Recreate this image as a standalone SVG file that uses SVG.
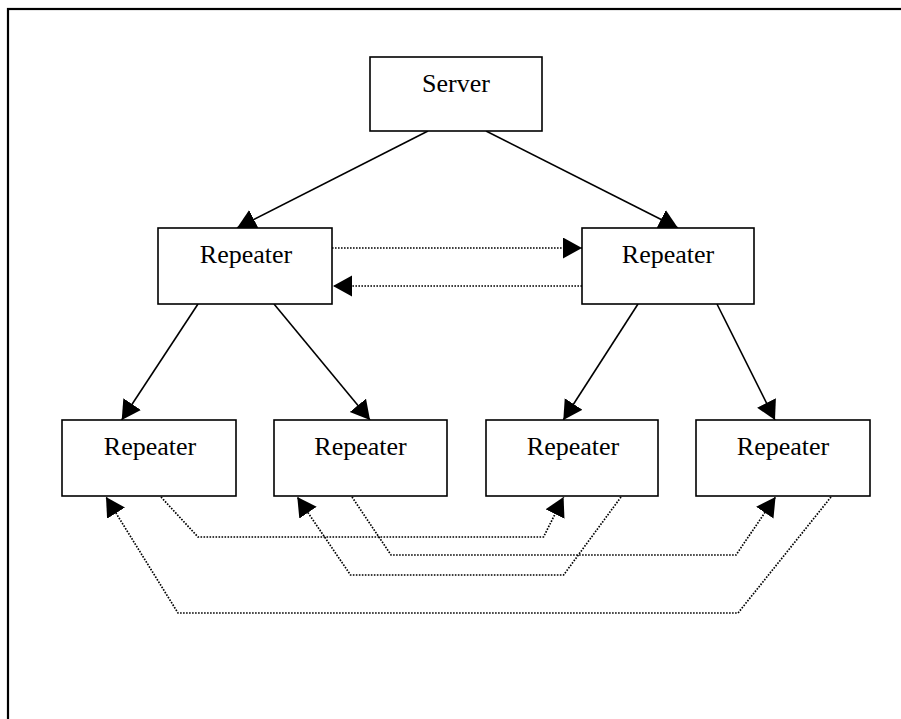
<svg xmlns="http://www.w3.org/2000/svg" width="901" height="719" viewBox="0 0 901 719">
  <style>
    .box { fill: #ffffff; stroke: #000000; stroke-width: 1.6; }
    .label { font-family: "Liberation Serif", "Times New Roman", serif; font-size: 26px; fill: #000000; text-anchor: middle; }
    .solid { fill: none; stroke: #000000; stroke-width: 1.6; marker-end: url(#arrow); }
    .dotted { fill: none; stroke: #000000; stroke-width: 1.7; stroke-dasharray: 1.6 1.4; marker-end: url(#arrow); }
  </style>
  <defs>
    <marker id="arrow" markerUnits="userSpaceOnUse" markerWidth="20" markerHeight="22" refX="19" refY="10.5" orient="auto">
      <path d="M0,0 L19,10.5 L0,21 Z" fill="#000000"/>
    </marker>
  </defs>
  <rect x="0" y="0" width="901" height="719" fill="#ffffff"/>
  <rect id="frame" x="8" y="9" width="1000" height="1000" fill="none" stroke="#000000" stroke-width="2.2"/>

  <g id="connectors">
    <path class="solid" d="M428,131 L237,228"/>
    <path class="solid" d="M486,131 L678,228"/>
    <path class="solid" d="M198,304 L121.7,420"/>
    <path class="solid" d="M274,304 L370,420"/>
    <path class="solid" d="M638,304 L563.3,420"/>
    <path class="solid" d="M717,304 L775,420"/>
    <path class="dotted" d="M332,248 L582,248"/>
    <path class="dotted" d="M582,286 L333,286"/>
    <path class="dotted" d="M161,497 L198,537 L543.5,537 L563.6,497"/>
    <path class="dotted" d="M352,497 L391,555 L736,555 L775.5,497"/>
    <path class="dotted" d="M621,497 L563.6,575 L350.5,575 L297.3,497"/>
    <path class="dotted" d="M831,497 L738,613 L178,613 L106,497"/>
  </g>

  <g id="server">
    <rect class="box" x="370" y="57" width="172" height="74"/>
    <text class="label" x="456" y="92">Server</text>
  </g>
  <g id="repeater-mid-left">
    <rect class="box" x="158" y="228" width="174" height="76"/>
    <text class="label" x="246" y="263">Repeater</text>
  </g>
  <g id="repeater-mid-right">
    <rect class="box" x="582" y="228" width="172" height="76"/>
    <text class="label" x="668" y="263">Repeater</text>
  </g>
  <g id="repeater-bottom-1">
    <rect class="box" x="62" y="420" width="174" height="76"/>
    <text class="label" x="150" y="455">Repeater</text>
  </g>
  <g id="repeater-bottom-2">
    <rect class="box" x="274" y="420" width="173" height="76"/>
    <text class="label" x="360.5" y="455">Repeater</text>
  </g>
  <g id="repeater-bottom-3">
    <rect class="box" x="486" y="420" width="172" height="76"/>
    <text class="label" x="573" y="455">Repeater</text>
  </g>
  <g id="repeater-bottom-4">
    <rect class="box" x="696" y="420" width="174" height="76"/>
    <text class="label" x="783" y="455">Repeater</text>
  </g>
</svg>
